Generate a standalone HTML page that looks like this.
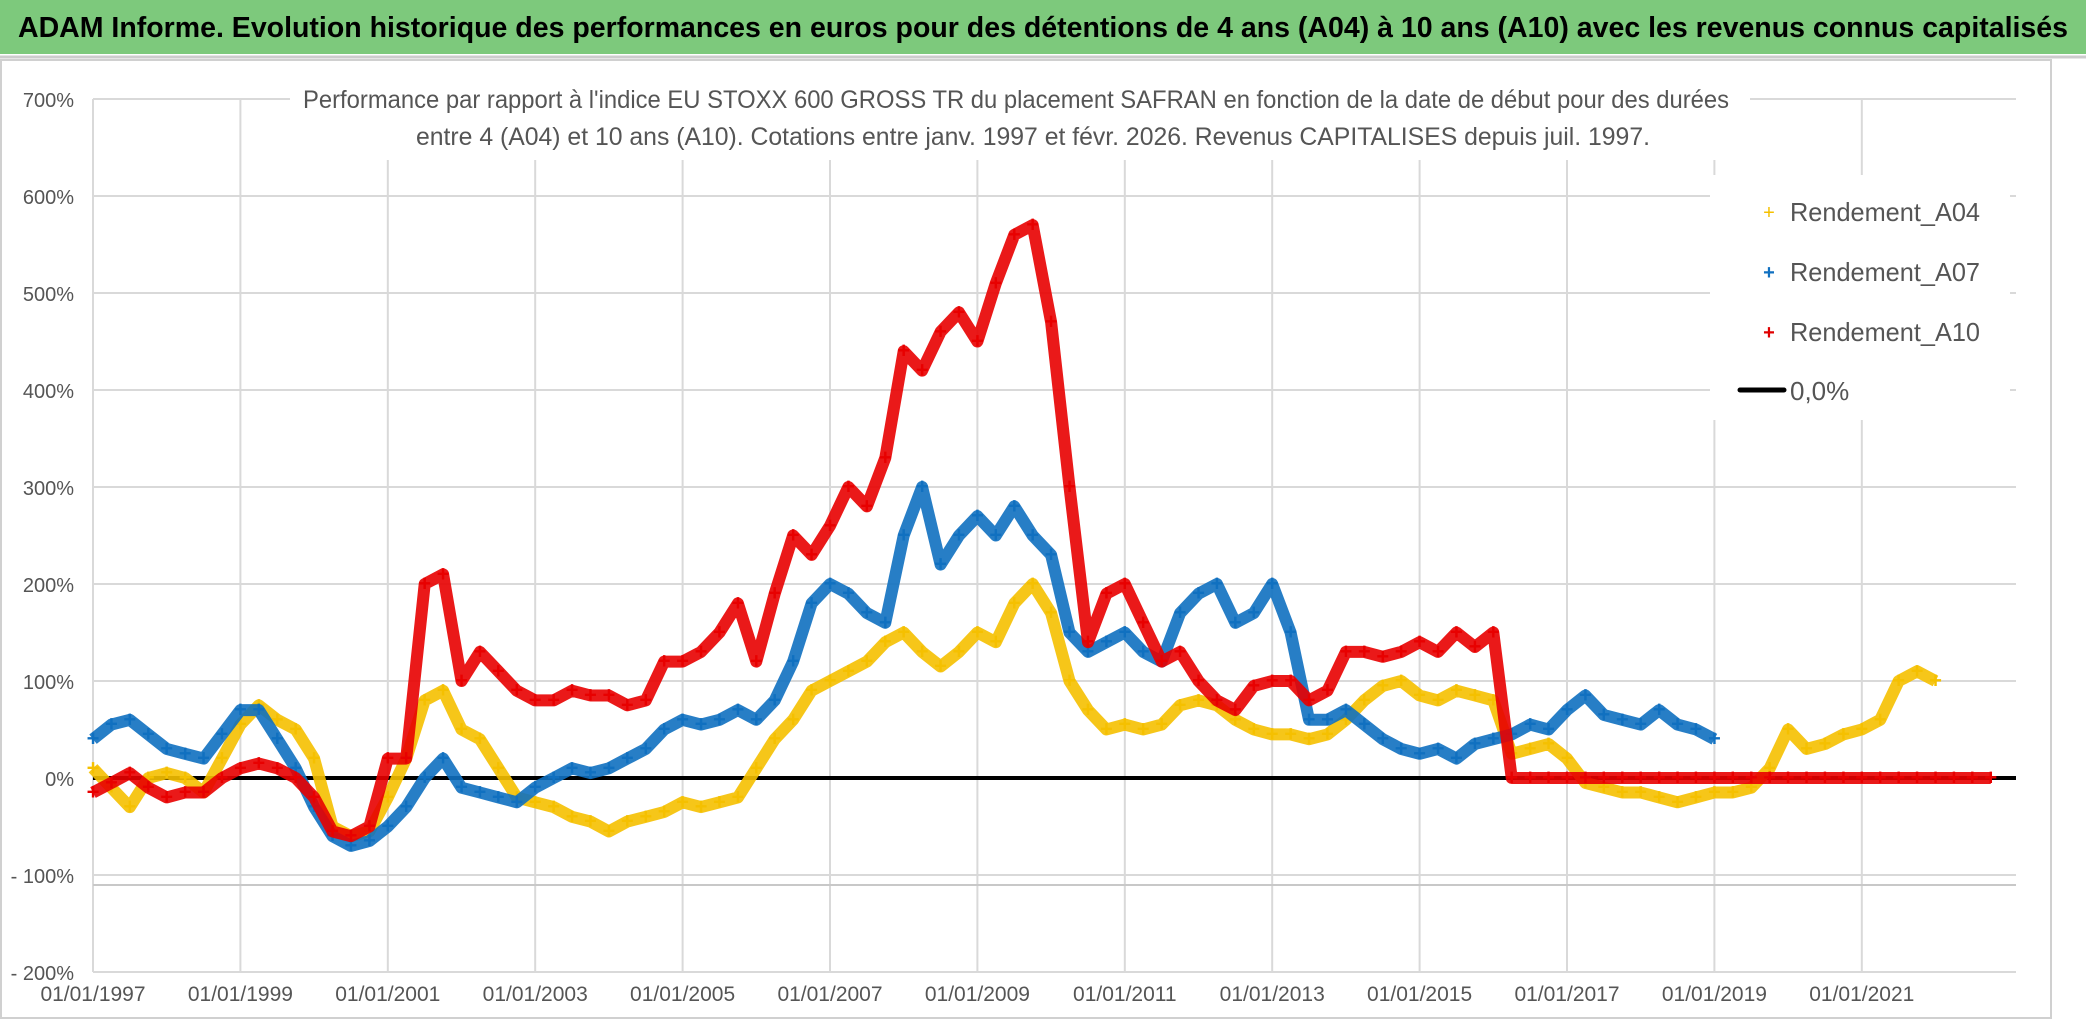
<!DOCTYPE html>
<html><head><meta charset="utf-8"><style>
body{margin:0;background:#fff;font-family:"Liberation Sans",sans-serif}
svg{display:block}
</style></head><body>
<svg id="chart" width="2086" height="1031" xmlns="http://www.w3.org/2000/svg">
<rect x="0" y="0" width="2086" height="54" fill="#7dc97c"/>
<line x1="0" y1="57" x2="2086" y2="57" stroke="#ccc" stroke-width="3"/>
<text x="1043" y="37" text-anchor="middle" font-size="29" font-weight="bold" fill="#000" textLength="2050" lengthAdjust="spacingAndGlyphs">ADAM Informe. Evolution historique des performances en euros pour des détentions de 4 ans (A04) à 10 ans (A10) avec les revenus connus capitalisés</text>
<rect x="1" y="60" width="2050" height="958" fill="none" stroke="#d0d0d0" stroke-width="2"/>
<g id="grid"></g>
<line x1="93" y1="885" x2="2016" y2="885" stroke="#c8c8c8" stroke-width="2"/>
<rect x="290" y="86" width="1460" height="74" fill="#fff"/>
<text x="1016" y="108" text-anchor="middle" font-size="25" fill="#555" textLength="1426" lengthAdjust="spacingAndGlyphs">Performance par rapport à l'indice EU STOXX 600 GROSS TR  du placement SAFRAN en fonction de la date de début pour des durées</text>
<text x="1033" y="145" text-anchor="middle" font-size="25" fill="#555" textLength="1234" lengthAdjust="spacingAndGlyphs">entre 4 (A04) et 10 ans (A10). Cotations entre janv. 1997 et févr. 2026. Revenus CAPITALISES depuis juil. 1997.</text>
<g id="series"></g>
<g id="legend">
<rect x="1710" y="175" width="300" height="245" fill="#fff"/>
<g><text x="1769" y="219" text-anchor="middle" font-size="20" fill="#f5c000">+</text><text x="1790" y="221" font-size="26" fill="#555" textLength="190" lengthAdjust="spacingAndGlyphs">Rendement_A04</text></g>
<g><text x="1769" y="279" text-anchor="middle" font-size="20" font-weight="bold" fill="#1070c0">+</text><text x="1790" y="281" font-size="26" fill="#555" textLength="190" lengthAdjust="spacingAndGlyphs">Rendement_A07</text></g>
<g><text x="1769" y="339" text-anchor="middle" font-size="20" font-weight="bold" fill="#e00000">+</text><text x="1790" y="341" font-size="26" fill="#555" textLength="190" lengthAdjust="spacingAndGlyphs">Rendement_A10</text></g>
<g><line x1="1740" y1="390" x2="1784" y2="390" stroke="#000" stroke-width="5" stroke-linecap="round"/><text x="1790" y="400" font-size="26" fill="#555">0,0%</text></g>
</g>
</svg>
<script>
const yTicks=[700,600,500,400,300,200,100,0,-100,-200];
const yTickLabels=["700%","600%","500%","400%","300%","200%","100%","0%","- 100%","- 200%"];
const xTickYears=[1997,1999,2001,2003,2005,2007,2009,2011,2013,2015,2017,2019,2021];
const xTickLabels=["01/01/1997","01/01/1999","01/01/2001","01/01/2003","01/01/2005","01/01/2007","01/01/2009","01/01/2011","01/01/2013","01/01/2015","01/01/2017","01/01/2019","01/01/2021"];
const a04=[10,-10,-30,0,5,0,-15,20,55,75,60,50,20,-50,-60,-55,-20,20,80,90,50,40,10,-20,-25,-30,-40,-45,-55,-45,-40,-35,-25,-30,-25,-20,10,40,60,90,100,110,120,140,150,130,115,130,150,140,180,200,170,100,70,50,55,50,55,75,80,75,60,50,45,45,40,45,60,80,95,100,85,80,90,85,80,25,30,35,20,-5,-10,-15,-15,-20,-25,-20,-15,-15,-10,10,50,30,35,45,50,60,100,110,100];
const a07=[40,55,60,45,30,25,20,45,70,70,40,10,-30,-60,-70,-65,-50,-30,0,20,-10,-15,-20,-25,-10,0,10,5,10,20,30,50,60,55,60,70,60,80,120,180,200,190,170,160,250,300,220,250,270,250,280,250,230,150,130,140,150,130,120,170,190,200,160,170,200,150,60,60,70,55,40,30,25,30,20,35,40,45,55,50,70,85,65,60,55,70,55,50,40];
const a10=[-15,-5,5,-10,-20,-15,-15,0,10,15,10,0,-20,-55,-60,-50,20,20,200,210,100,130,110,90,80,80,90,85,85,75,80,120,120,130,150,180,120,190,250,230,260,300,280,330,440,420,460,480,450,510,560,570,470,300,140,190,200,160,120,130,100,80,70,95,100,100,80,90,130,130,125,130,140,130,150,135,150,0,0,0,0,0,0,0,0,0,0,0,0,0,0,0,0,0,0,0,0,0,0,0,0,0,0,0];
const startYear=1997, stepYears=0.25;
const NS="http://www.w3.org/2000/svg";
function xs(yr){return 93+(yr-1997)*73.7;}
function ys(v){return 778-v*0.97;}
const grid=document.getElementById('grid');
yTicks.forEach((t,i)=>{
 const l=document.createElementNS(NS,'line');
 l.setAttribute('x1',93);l.setAttribute('x2',2016);l.setAttribute('y1',ys(t));l.setAttribute('y2',ys(t));
 l.setAttribute('stroke','#d9d9d9');l.setAttribute('stroke-width',2);
 
 
 grid.appendChild(l);
 const tx=document.createElementNS(NS,'text');
 tx.setAttribute('x',74);tx.setAttribute('y',ys(t)+8);tx.setAttribute('text-anchor','end');
 tx.setAttribute('font-size',20);tx.setAttribute('fill','#555');tx.textContent=yTickLabels[i];
 
 
 grid.appendChild(tx);
});
xTickYears.forEach((y,i)=>{
 const l=document.createElementNS(NS,'line');
 l.setAttribute('x1',xs(y));l.setAttribute('x2',xs(y));l.setAttribute('y1',ys(700));l.setAttribute('y2',ys(-200));
 l.setAttribute('stroke','#d9d9d9');l.setAttribute('stroke-width',2);
 
 
 grid.appendChild(l);
 const tx=document.createElementNS(NS,'text');
 tx.setAttribute('x',xs(y));tx.setAttribute('y',1001);tx.setAttribute('text-anchor','middle');
 tx.setAttribute('font-size',21);tx.setAttribute('fill','#555');tx.textContent=xTickLabels[i];
 
 
 grid.appendChild(tx);
});
const sg=document.getElementById('series');
const zl=document.createElementNS(NS,'line');
zl.setAttribute('x1',93);zl.setAttribute('x2',2016);zl.setAttribute('y1',ys(0));zl.setAttribute('y2',ys(0));
zl.setAttribute('stroke','#000');zl.setAttribute('stroke-width',4);


sg.appendChild(zl);
function drawSeries(vals,color,name){
 const g=document.createElementNS(NS,'g');
 
 
 const pts=vals.map((v,i)=>xs(startYear+i*stepYears).toFixed(1)+','+ys(v).toFixed(1)).join(' ');
 const pl=document.createElementNS(NS,'polyline');
 pl.setAttribute('points',pts);pl.setAttribute('fill','none');pl.setAttribute('stroke',color);
 pl.setAttribute('stroke-width',12);pl.setAttribute('stroke-linejoin','round');pl.setAttribute('opacity','0.9');
 g.appendChild(pl);
 vals.forEach((v,i)=>{
  const t=document.createElementNS(NS,'text');
  t.setAttribute('x',xs(startYear+i*stepYears));t.setAttribute('y',ys(v)+7);
  t.setAttribute('text-anchor','middle');t.setAttribute('font-size',22);t.setAttribute('font-weight','bold');
  t.setAttribute('fill',color);t.textContent='+';
  
  
  g.appendChild(t);
 });
 sg.appendChild(g);
}
drawSeries(a04,'#f5c000','series-a04');
drawSeries(a07,'#1070c0','series-a07');
drawSeries(a10,'#e80000','series-a10');
</script>
</body></html>
